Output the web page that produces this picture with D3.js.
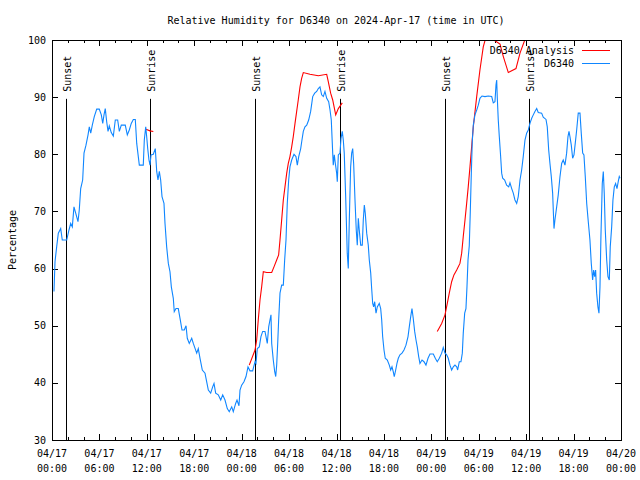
<!DOCTYPE html>
<html><head><meta charset="utf-8">
<script src="https://cdn.jsdelivr.net/npm/d3@7"></script>
<style>
body{margin:0;background:#fff}
text{font-family:"DejaVu Sans Mono",monospace;font-size:10px;fill:#000}
</style>
</head><body>
<svg id="chart" width="640" height="480"></svg>
<script>
const chartTitle = "Relative Humidity for D6340 on 2024-Apr-17 (time in UTC)";
const yLabel = "Percentage";
const startTime = "2024-04-17T00:00:00Z";
const endTime = "2024-04-20T00:00:00Z";
const yTickValues = [30, 40, 50, 60, 70, 80, 90, 100];
const xMajorHours = [0, 6, 12, 18, 24, 30, 36, 42, 48, 54, 60, 66, 72];
const xMinorHours = [2, 4, 8, 10, 14, 16, 20, 22, 26, 28, 32, 34, 38, 40, 44, 46, 50, 52, 56, 58, 62, 64, 68, 70];
const legendNames = ["D6340 Analysis", "D6340"];

// observed RH, hours since 2024-04-17 00:00 UTC
const obsHours = [0.25,0.38,0.59,0.80,1.10,1.30,1.86,2.15,2.37,2.57,2.78,3.00,3.29,3.45,3.63,3.88,4.05,4.30,4.56,4.72,4.90,5.10,5.35,5.66,5.98,6.24,6.42,6.58,6.74,6.92,7.09,7.25,7.50,7.76,8.01,8.31,8.52,8.77,9.27,9.53,9.78,10.03,10.29,10.54,10.72,10.92,11.05,11.55,11.68,11.86,11.98,12.11,12.27,12.40,12.53,12.82,13.07,13.25,13.41,13.58,13.75,13.92,14.17,14.30,14.51,14.72,14.93,15.10,15.35,15.47,15.69,15.98,16.20,16.45,16.74,16.96,17.12,17.37,17.68,17.88,18.31,18.51,18.73,19.02,19.36,19.57,19.78,20.08,20.33,20.50,20.71,21.04,21.35,21.60,21.89,22.18,22.43,22.74,22.94,23.24,23.41,23.66,23.79,24.00,24.29,24.55,24.80,25.05,25.39,25.69,25.81,25.98,26.23,26.44,26.66,26.95,27.08,27.24,27.42,27.58,27.71,27.80,28.00,28.18,28.31,28.43,28.56,28.68,28.85,29.06,29.27,29.44,29.61,29.77,29.95,30.11,30.33,30.62,30.87,31.04,31.22,31.47,31.63,31.80,32.01,32.23,32.48,32.73,32.99,33.24,33.49,33.70,33.91,34.12,34.33,34.54,34.76,35.01,35.18,35.34,35.52,35.59,35.72,35.85,36.02,36.10,36.23,36.44,36.57,36.73,36.86,36.98,37.16,37.29,37.36,37.49,37.62,37.79,37.92,38.05,38.17,38.34,38.50,38.63,38.76,38.88,39.06,39.26,39.39,39.52,39.64,39.82,40.02,40.15,40.33,40.45,40.58,40.70,40.83,41.00,41.16,41.41,41.59,41.72,41.84,42.01,42.17,42.43,42.68,42.86,43.02,43.18,43.31,43.49,43.65,43.82,44.03,44.29,44.54,44.79,45.05,45.21,45.39,45.55,45.71,45.89,46.06,46.22,46.40,46.56,46.82,47.07,47.32,47.58,47.83,48.25,48.50,48.75,49.01,49.31,49.51,49.73,49.94,50.14,50.36,50.57,50.78,50.99,51.21,51.33,51.54,51.75,51.92,52.04,52.22,52.38,52.51,52.64,52.80,52.93,53.06,53.18,53.31,53.52,53.74,53.94,54.15,54.41,54.79,55.20,55.64,55.84,56.05,56.18,56.27,56.34,56.47,56.60,56.77,56.90,57.03,57.28,57.53,57.79,57.95,58.17,58.37,58.58,58.80,59.00,59.22,59.43,59.63,59.85,60.06,60.27,60.48,60.70,60.90,61.11,61.33,61.53,61.96,62.16,62.51,62.67,62.85,63.01,63.18,63.35,63.52,63.64,63.86,64.06,64.28,64.49,64.69,64.91,65.12,65.29,65.42,65.54,65.71,65.88,66.05,66.21,66.39,66.59,66.81,66.97,67.15,67.31,67.48,67.66,67.86,68.07,68.24,68.41,68.54,68.67,68.79,68.92,69.08,69.21,69.34,69.46,69.63,69.76,69.88,70.01,70.19,70.35,70.52,70.64,70.82,70.98,71.15,71.32,71.49,71.65,71.78,71.87];
const obsValues = [56.0,61.2,63.8,66.2,67.0,65.0,65.0,66.75,67.9,67.3,70.8,69.7,68.2,70.25,74.0,75.5,80.2,81.6,83.4,84.8,83.7,85.1,86.6,87.9,87.9,86.9,85.4,86.9,88.0,85.7,84.0,84.95,83.8,83.2,86.0,86.0,84.0,85.1,85.1,83.4,84.25,85.4,86.1,86.1,81.9,79.6,78.1,78.1,82.5,84.8,83.1,81.0,79.0,78.1,79.9,80.0,81.0,77.0,75.5,77.0,75.5,72.6,71.4,67.9,63.8,60.9,59.45,56.8,54.8,52.45,53.0,53.0,51.3,49.25,49.25,50.0,47.8,46.9,47.8,46.9,45.2,46.0,44.3,42.25,41.7,40.2,38.75,38.2,39.3,39.9,38.2,37.9,37.0,37.9,37.0,35.5,34.95,35.8,34.95,36.4,37.0,36.0,38.75,39.6,40.2,41.1,42.8,42.1,42.1,43.7,43.4,46.0,46.3,48.1,49.0,49.0,48.1,46.9,49.8,51.0,51.9,46.9,44.0,41.95,41.1,43.1,46.9,51.0,55.7,57.1,57.1,61.5,65.0,71.4,75.5,77.8,79.0,80.0,79.6,78.1,79.6,81.0,82.5,84.0,84.8,85.1,86.0,87.5,90.1,90.7,91.0,91.5,91.8,90.4,90.1,91.0,89.8,89.2,87.75,86.0,80.2,78.1,79.9,78.4,76.7,75.2,79.9,80.2,82.8,84.0,82.5,80.2,72.6,66.2,62.7,60.0,68.5,77.8,80.2,81.0,78.4,72.0,66.75,64.1,68.8,66.75,64.1,64.1,68.5,71.1,69.7,66.2,64.1,61.5,59.2,56.5,53.9,53.3,54.2,52.2,53.3,53.9,53.0,51.0,48.1,45.75,44.3,44.0,43.1,42.25,42.8,41.95,41.1,42.25,43.4,44.3,44.9,45.2,45.75,46.6,48.1,49.8,51.6,53.0,51.3,49.0,47.5,46.3,44.6,43.4,44.0,43.7,43.1,44.3,45.05,45.05,44.3,43.7,44.3,45.2,46.2,45.2,44.9,44.3,43.1,42.25,42.8,43.1,42.8,42.25,43.7,43.7,45.2,48.7,52.2,53.0,56.8,61.5,64.0,70.0,76.7,82.2,85.1,86.9,87.75,88.6,89.8,90.2,90.1,90.2,90.1,89.0,89.2,92.1,93.0,90.1,86.0,83.1,79.6,76.7,75.8,75.5,74.6,74.3,75.0,74.0,73.2,72.0,71.4,72.6,75.5,77.25,79.6,82.5,83.7,84.25,85.4,86.3,86.9,87.5,88.0,87.3,87.2,86.5,86.1,84.8,80.75,78.4,76.1,73.2,67.0,68.5,70.8,72.9,76.1,78.4,79.0,78.1,80.2,83.1,84.0,83.1,81.6,79.3,79.9,81.9,84.25,87.2,87.2,83.7,80.2,79.9,76.1,71.4,68.2,65.0,60.9,58.0,59.75,58.6,59.75,55.7,53.3,52.2,56.8,65.6,74.9,77.0,73.2,66.75,61.5,58.6,58.0,63.8,67.3,72.0,74.3,74.9,74.0,75.2,76.1,75.8];

// analysis RH (null = gap between runs)
const anaHours = [11.89,12.40,12.82,null,24.96,25.69,25.90,26.10,26.32,26.53,26.74,27.17,27.80,28.09,28.43,28.68,28.85,29.06,29.27,29.48,29.70,29.90,30.11,30.33,30.53,30.75,30.96,31.16,31.38,31.59,31.80,32.64,33.70,34.76,34.96,35.26,35.52,35.90,36.23,36.73,null,48.75,49.31,49.73,50.02,50.27,50.57,50.86,51.21,51.62,51.84,52.04,52.26,52.47,52.67,52.89,53.10,53.31,53.74,54.15,54.57,55.17,55.93,56.69,57.11,57.74,58.71,59.22,59.85,60.23];
const anaValues = [84.4,84.1,84.0,null,43.1,45.75,47.5,51.0,54.5,56.8,59.45,59.3,59.3,60.3,61.5,62.4,65.0,68.5,72.0,74.3,76.7,78.4,79.6,81.3,83.1,85.4,87.5,89.5,91.8,93.3,94.3,94.0,93.75,94.0,92.7,90.7,89.5,86.9,88.0,89.0,null,49.0,50.4,51.9,53.9,55.7,57.7,58.9,59.75,60.9,62.7,65.6,68.5,71.4,74.3,77.8,81.3,84.8,90.1,94.75,98.8,101.8,100.0,99.3,97.1,94.3,95.0,97.7,100.1,101.0];

const sunLabels = ["Sunset", "Sunrise", "Sunset", "Sunrise", "Sunset", "Sunrise"];
const sunTimes = ["2024-04-17T01:44:00Z", "2024-04-17T12:24:00Z", "2024-04-18T01:43:00Z", "2024-04-18T12:29:00Z", "2024-04-19T01:46:00Z", "2024-04-19T12:24:00Z"];
const sunLineTop = 89.7;

const t0 = new Date(startTime);
const hourToDate = h => new Date(t0.getTime() + h * 3600e3);

const svg = d3.select("#chart");
const L = 52, R = 621, T = 40, B = 440;
const x = d3.scaleUtc().domain([new Date(startTime), new Date(endTime)]).range([L, R]);
const y = d3.scaleLinear().domain([30, 100]).range([B, T]);

svg.append("rect").attr("width", 640).attr("height", 480).attr("fill", "#fff");

// title
svg.append("text").attr("x", 336).attr("y", 20).attr("text-anchor", "middle")
  .attr("dominant-baseline", "central").text(chartTitle);

// y label
svg.append("text").attr("transform", "translate(12,240) rotate(-90)")
  .attr("text-anchor", "middle").attr("dominant-baseline", "central").text(yLabel);

// ticks
const majorDates = xMajorHours.map(hourToDate);
const minorDates = xMinorHours.map(hourToDate);
function styleAxis(g) {
  g.select(".domain").remove();
  g.selectAll("line").attr("stroke", "#000").attr("shape-rendering", "crispEdges");
  g.selectAll("text").remove();
}
svg.append("g").attr("transform", `translate(0,${B})`)
  .call(d3.axisBottom(x).tickValues(majorDates).tickSize(-6).tickFormat("")).call(styleAxis);
svg.append("g").attr("transform", `translate(0,${B})`)
  .call(d3.axisBottom(x).tickValues(minorDates).tickSize(-3).tickFormat("")).call(styleAxis);
svg.append("g").attr("transform", `translate(0,${T})`)
  .call(d3.axisTop(x).tickValues(majorDates).tickSize(-6).tickFormat("")).call(styleAxis);
svg.append("g").attr("transform", `translate(0,${T})`)
  .call(d3.axisTop(x).tickValues(minorDates).tickSize(-3).tickFormat("")).call(styleAxis);
svg.append("g").attr("transform", `translate(${L},0)`)
  .call(d3.axisLeft(y).tickValues(yTickValues).tickSize(-6).tickFormat("")).call(styleAxis);
svg.append("g").attr("transform", `translate(${R},0)`)
  .call(d3.axisRight(y).tickValues(yTickValues).tickSize(-6).tickFormat("")).call(styleAxis);

// y tick labels
svg.append("g").selectAll("text").data(yTickValues).join("text")
  .attr("x", L - 6).attr("y", d => y(d)).attr("text-anchor", "end")
  .attr("dominant-baseline", "central").text(d => d);

// x tick labels
const fDate = d3.utcFormat("%m/%d"), fTime = d3.utcFormat("%H:%M");
const xl = svg.append("g").selectAll("text").data(majorDates).join("text")
  .attr("text-anchor", "middle");
xl.append("tspan").attr("x", d => x(d)).attr("y", 457).text(d => fDate(d));
xl.append("tspan").attr("x", d => x(d)).attr("y", 472).text(d => fTime(d));

// clip
svg.append("clipPath").attr("id", "clip").append("rect")
  .attr("x", L).attr("y", T).attr("width", R - L).attr("height", B - T);

// sun lines
const sunG = svg.append("g");
sunTimes.forEach((s, i) => {
  const xs = Math.round(x(new Date(s))) + 0.5;
  sunG.append("line").attr("x1", xs).attr("x2", xs).attr("y1", y(sunLineTop)).attr("y2", y(30))
    .attr("stroke", "#000").attr("stroke-width", 1);
  sunG.append("text").attr("transform", `translate(${xs + 4},${y(sunLineTop) - 7}) rotate(-90)`)
    .attr("text-anchor", "start").text(sunLabels[i]);
});

// data lines
const obs = obsHours.map((h, i) => ({ t: hourToDate(h), v: obsValues[i] }));
const ana = anaHours.map((h, i) => ({ t: h == null ? null : hourToDate(h), v: anaValues[i] }));
const line = d3.line().defined(d => d.v != null).x(d => x(d.t)).y(d => y(d.v));
const dataG = svg.append("g").attr("clip-path", "url(#clip)");
dataG.append("path").datum(ana).attr("d", line).attr("fill", "none")
  .attr("stroke", "#ff0000").attr("stroke-width", 1.1);
dataG.append("path").datum(obs).attr("d", line).attr("fill", "none")
  .attr("stroke", "#0f86ff").attr("stroke-width", 1.1);

// legend
const legColors = ["#ff0000", "#0f86ff"];
legendNames.forEach((n, i) => {
  const ly = 50 + i * 13;
  svg.append("text").attr("x", 574).attr("y", ly).attr("text-anchor", "end")
    .attr("dominant-baseline", "central").text(n);
  svg.append("line").attr("x1", 582).attr("x2", 610).attr("y1", ly + 0.5).attr("y2", ly + 0.5)
    .attr("stroke", legColors[i]).attr("stroke-width", 1);
});

// border
svg.append("rect").attr("x", L + 0.5).attr("y", T + 0.5).attr("width", R - L).attr("height", B - T)
  .attr("fill", "none").attr("stroke", "#000").attr("stroke-width", 1);
</script>
</body></html>
